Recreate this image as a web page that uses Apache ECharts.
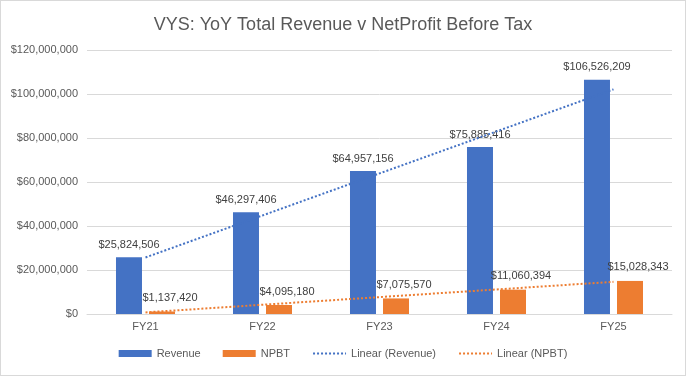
<!DOCTYPE html>
<html lang="en">
<head>
    <meta charset="UTF-8">
    <title>VYS YoY Revenue v NPBT</title>
    <script src="https://cdn.jsdelivr.net/npm/echarts@6/dist/echarts.min.js"></script>
    <style>
        html, body { margin: 0; padding: 0; background: #fff; }
        #chart {
            width: 684px;
            height: 374px;
            border: 1px solid #d9d9d9;
        }
    </style>
</head>
<body>
    <div id="chart"></div>
    <script>
        // data
        var years = ['FY21', 'FY22', 'FY23', 'FY24', 'FY25'];
        var revenue = [25824506, 46297406, 64957156, 75885416, 106526209];
        var npbt = [1137420, 4095180, 7075570, 11060394, 15028343];

        // least squares line, like excel's "Linear" trendline
        function linearFit(vals) {
            var n = vals.length, sx = 0, sy = 0, sxy = 0, sxx = 0;
            for (var i = 0; i < n; i++) {
                var x = i + 1;
                sx += x; sy += vals[i]; sxy += x * vals[i]; sxx += x * x;
            }
            var b = (n * sxy - sx * sy) / (n * sxx - sx * sx);
            var a = (sy - b * sx) / n;
            return vals.map(function (v, i) { return a + b * (i + 1); });
        }

        function money(v) {
            return '$' + Math.round(v).toLocaleString('en-US');
        }

        var font = 'Liberation Sans, Arial, sans-serif';
        var chart = echarts.init(document.getElementById('chart'));

        var option = {
            animation: false,
            textStyle: { fontFamily: font },
            title: {
                text: 'VYS: YoY Total Revenue v NetProfit Before Tax',
                left: 'center',
                top: 10,
                textStyle: { fontSize: 18, fontWeight: 'normal', color: '#595959', fontFamily: font }
            },
            legend: {
                bottom: 11,
                left: 'center',
                itemWidth: 33,
                itemHeight: 7,
                itemGap: 22,
                textStyle: { color: '#595959', fontSize: 11 },
                data: [
                    { name: 'Revenue', icon: 'rect' },
                    { name: 'NPBT', icon: 'rect' },
                    { name: 'Linear (Revenue)', itemStyle: { opacity: 0 } },
                    { name: 'Linear (NPBT)', itemStyle: { opacity: 0 } }
                ]
            },
            grid: { left: 86, right: 13, top: 49, bottom: 61 },
            xAxis: {
                type: 'category',
                data: years,
                axisTick: { show: false },
                axisLine: { lineStyle: { color: '#d9d9d9' } },
                axisLabel: { color: '#595959', fontSize: 11, margin: 7 }
            },
            yAxis: {
                type: 'value',
                min: 0,
                max: 120000000,
                interval: 20000000,
                axisLine: { show: false },
                axisTick: { show: false },
                splitLine: { lineStyle: { color: '#d9d9d9' } },
                axisLabel: {
                    color: '#595959',
                    fontSize: 11,
                    margin: 9,
                    formatter: money
                }
            },
            series: [
                {
                    name: 'Revenue',
                    type: 'bar',
                    data: revenue,
                    barWidth: 26,
                    barGap: '27%',
                    itemStyle: { color: '#4472C4' },
                    label: {
                        show: true,
                        position: 'top',
                        distance: 7,
                        color: '#404040',
                        fontSize: 11,
                        formatter: function (p) { return money(p.value); }
                    }
                },
                {
                    name: 'NPBT',
                    type: 'bar',
                    data: npbt,
                    barWidth: 26,
                    itemStyle: { color: '#ED7D31' },
                    label: {
                        show: true,
                        position: 'top',
                        distance: 8,
                        offset: [8, 0],
                        color: '#404040',
                        fontSize: 11,
                        formatter: function (p) { return money(p.value); }
                    }
                },
                {
                    name: 'Linear (Revenue)',
                    type: 'line',
                    data: linearFit(revenue),
                    symbol: 'none',
                    z: 5,
                    lineStyle: { color: '#4472C4', width: 2, type: [2, 2] },
                    itemStyle: { color: '#4472C4' }
                },
                {
                    name: 'Linear (NPBT)',
                    type: 'line',
                    data: linearFit(npbt),
                    symbol: 'none',
                    z: 5,
                    lineStyle: { color: '#ED7D31', width: 2, type: [2, 2] },
                    itemStyle: { color: '#ED7D31' }
                }
            ]
        };

        chart.setOption(option);

        window.addEventListener('resize', function () {
            chart.resize();
        });
    </script>
</body>
</html>
